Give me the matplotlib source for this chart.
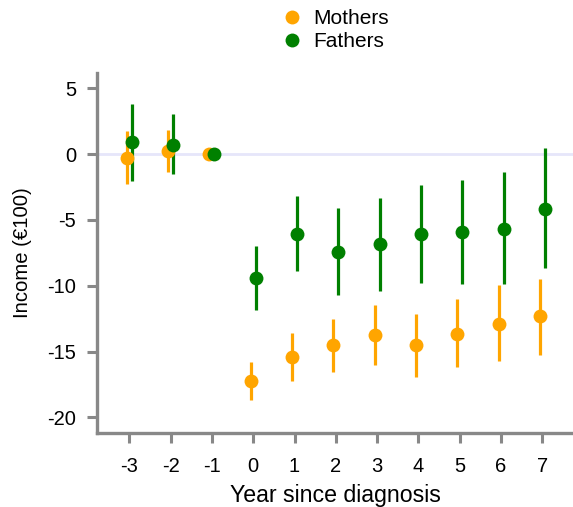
import matplotlib
matplotlib.use("Agg")
import matplotlib.pyplot as plt
from matplotlib.lines import Line2D

plt.rcParams['font.family'] = ['Liberation Sans', 'DejaVu Sans']
plt.rcParams['axes.unicode_minus'] = False

years = [-3, -2, -1, 0, 1, 2, 3, 4, 5, 6, 7]
mothers = [-0.28, 0.23, 0.0, -17.25, -15.4, -14.47, -13.71, -14.47, -13.64, -12.88, -12.3]
mothers_hi = [1.74, 1.82, 0.0, -15.76, -13.56, -12.5, -11.44, -12.12, -10.98, -9.97, -9.47]
mothers_lo = [-2.25, -1.34, 0.0, -18.69, -17.25, -16.56, -16.03, -16.94, -16.19, -15.73, -15.28]
fathers = [0.91, 0.71, 0.0, -9.45, -6.08, -7.45, -6.84, -6.08, -5.93, -5.66, -4.17]
fathers_hi = [3.79, 3.03, 0.0, -6.97, -3.18, -4.09, -3.33, -2.35, -1.97, -1.36, 0.45]
fathers_lo = [-2.02, -1.49, 0.0, -11.87, -8.9, -10.7, -10.4, -9.8, -9.9, -9.9, -8.69]
xticks = [-3, -2, -1, 0, 1, 2, 3, 4, 5, 6, 7]
yticks = [5, 0, -5, -10, -15, -20]

ORANGE = '#FFA500'
GREEN = '#008000'
GREY = '#888888'

fig = plt.figure(figsize=(5.73, 5.07), dpi=100)
ax = fig.add_axes([97/573, (507-433)/507, (573-97)/573, (433-73)/507])

ax.axhline(0, color='#E6E6FA', lw=2, zorder=0)

off = 0.06
for vals, hi, lo, col, d in [(mothers, mothers_hi, mothers_lo, ORANGE, -off),
                              (fathers, fathers_hi, fathers_lo, GREEN, off)]:
    xs = [x + d for x in years]
    ax.vlines(xs, lo, hi, color=col, lw=2.3, zorder=2)
    ax.plot(xs, vals, 'o', color=col, ms=10, mec='none', zorder=3)

ax.set_xlim(-3.78, 7.74)
ax.set_ylim(-21.18, 6.15)
ax.set_xticks(xticks)
ax.set_xticklabels([str(t) for t in xticks])
ax.set_yticks(yticks)
ax.set_yticklabels([str(t) for t in yticks])

for s in ['top', 'right']:
    ax.spines[s].set_visible(False)
for s in ['left', 'bottom']:
    ax.spines[s].set_color(GREY)
    ax.spines[s].set_linewidth(2.4)
ax.tick_params(axis='both', colors=GREY, width=2.2, length=7.5, labelsize=14.5, labelcolor='black')
ax.tick_params(axis='x', pad=9.5)
ax.tick_params(axis='y', pad=7.5)

ax.set_xlabel('Year since diagnosis', fontsize=16.7, labelpad=6)
ax.set_ylabel('Income (€100)', fontsize=14.6, labelpad=11)

handles = [Line2D([], [], ls='none', marker='o', color=ORANGE, ms=10, mec='none'),
           Line2D([], [], ls='none', marker='o', color=GREEN, ms=10, mec='none')]
fig.legend(handles, ['Mothers', 'Fathers'], loc='upper left', bbox_to_anchor=(284/573, 1 - 9/507),
           frameon=False, fontsize=15, handlelength=0.8, handletextpad=0.6, labelspacing=0.2,
           borderaxespad=0, borderpad=0)

fig.savefig('out.png', dpi=100)
